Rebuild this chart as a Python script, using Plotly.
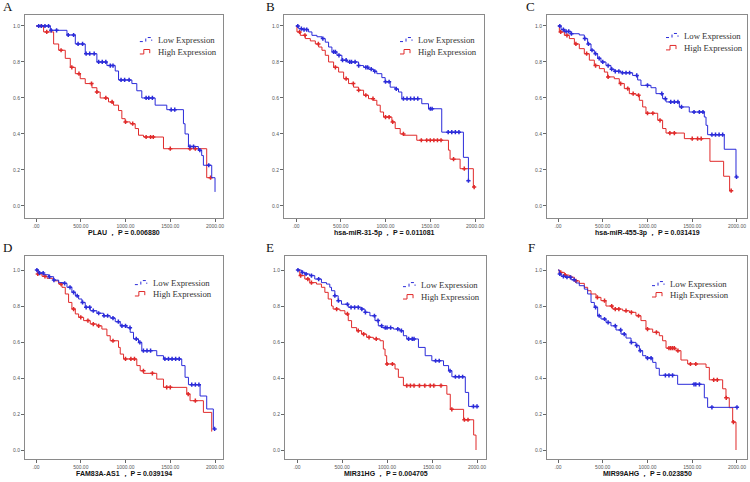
import plotly.graph_objects as go

# ---------------- data ----------------
panel_letters = ["A", "B", "C", "D", "E", "F"]
panel_titles = ["PLAU \uff0c P = 0.006880", "hsa-miR-31-5p \uff0c P = 0.011081",
                "hsa-miR-455-3p \uff0c P = 0.031419", "FAM83A-AS1 \uff0c P = 0.039194",
                "MIR31HG \uff0c P = 0.004705", "MIR99AHG \uff0c P = 0.023850"]
x_tickvals = [0, 500, 1000, 1500, 2000]
x_ticktext = [".00", "500.00", "1000.00", "1500.00", "2000.00"]
y_tickvals = [0, 0.2, 0.4, 0.6, 0.8, 1.0]
y_ticktext = ["0.0", "0.2", "0.4", "0.6", "0.8", "1.0"]
series_names = ["Low Expression", "High Expression"]

# A
A_low_t = [0, 160, 346, 439, 550, 680, 792, 885, 922, 1071, 1126, 1182, 1331, 1461, 1647, 1665, 1703, 1814, 1851, 1870, 1963, 2000]
A_low_s = [1.0, 0.976, 0.95, 0.90, 0.846, 0.80, 0.78, 0.75, 0.70, 0.68, 0.64, 0.60, 0.56, 0.535, 0.457, 0.40, 0.33, 0.31, 0.28, 0.226, 0.157, 0.078]
A_low_end = 2000
A_low_c = [30, 60, 100, 140, 170, 230, 360, 420, 470, 520, 560, 600, 650, 700, 740, 780, 830, 860, 950, 990, 1040, 1230, 1260, 1300, 1510, 1550, 1720, 1760, 1830, 1930]
A_high_t = [0, 85, 197, 253, 327, 383, 439, 494, 550, 625, 680, 717, 810, 866, 922, 959, 996, 1052, 1108, 1145, 1201, 1424, 1907]
A_high_s = [1.0, 0.967, 0.90, 0.865, 0.82, 0.77, 0.735, 0.707, 0.68, 0.657, 0.633, 0.60, 0.578, 0.56, 0.53, 0.485, 0.467, 0.457, 0.43, 0.393, 0.383, 0.318, 0.157]
A_high_end = 1963
A_high_c = [60, 120, 280, 400, 480, 620, 680, 780, 850, 1000, 1080, 1230, 1280, 1310, 1500, 1720, 1780, 1950]

# B
B_low_t = [0, 30, 67, 141, 178, 234, 290, 327, 364, 401, 457, 513, 569, 699, 755, 810, 866, 903, 959, 996, 1052, 1108, 1145, 1182, 1405, 1480, 1628, 1870, 1926]
B_low_s = [1.0, 0.985, 0.98, 0.967, 0.948, 0.94, 0.93, 0.91, 0.883, 0.856, 0.837, 0.81, 0.80, 0.78, 0.77, 0.76, 0.748, 0.735, 0.713, 0.69, 0.66, 0.65, 0.633, 0.596, 0.568, 0.54, 0.41, 0.27, 0.14]
B_low_end = 1926
B_low_c = [20, 60, 90, 120, 300, 420, 440, 480, 520, 560, 600, 620, 660, 700, 780, 800, 840, 880, 1000, 1040, 1120, 1200, 1240, 1280, 1320, 1360, 1500, 1520, 1700, 1740, 1780, 1820, 1926]
B_high_t = [0, 11, 48, 104, 160, 216, 253, 290, 327, 364, 420, 476, 532, 587, 643, 699, 755, 810, 866, 903, 941, 978, 1071, 1108, 1164, 1201, 1349, 1703, 1721, 1833, 1981]
B_high_s = [1.0, 0.967, 0.948, 0.93, 0.917, 0.90, 0.883, 0.865, 0.837, 0.80, 0.77, 0.744, 0.707, 0.68, 0.66, 0.643, 0.615, 0.596, 0.587, 0.56, 0.522, 0.494, 0.467, 0.43, 0.40, 0.393, 0.365, 0.31, 0.26, 0.207, 0.105]
B_high_end = 1990
B_high_c = [40, 100, 250, 440, 560, 640, 700, 780, 860, 1000, 1040, 1080, 1200, 1400, 1460, 1500, 1540, 1580, 1620, 1760, 1880, 1990]

# C
C_low_t = [0, 34, 71, 145, 238, 294, 331, 369, 406, 443, 480, 536, 592, 629, 704, 834, 890, 927, 1039, 1095, 1169, 1207, 1356, 1467, 1635, 1654, 1672, 1858, 1989]
C_low_s = [1.0, 0.98, 0.97, 0.957, 0.95, 0.93, 0.90, 0.865, 0.846, 0.82, 0.80, 0.78, 0.76, 0.748, 0.74, 0.725, 0.70, 0.67, 0.657, 0.624, 0.596, 0.578, 0.55, 0.522, 0.494, 0.448, 0.396, 0.315, 0.161]
C_low_end = 1995
C_low_c = [20, 60, 90, 120, 150, 300, 340, 380, 420, 460, 500, 560, 600, 640, 680, 720, 760, 800, 880, 1000, 1160, 1200, 1260, 1300, 1340, 1380, 1520, 1580, 1620, 1720, 1760, 1800, 1840, 1995]
C_high_t = [0, 15, 71, 127, 183, 238, 294, 350, 406, 462, 518, 555, 629, 685, 741, 797, 871, 909, 946, 983, 1114, 1169, 1207, 1412, 1698, 1851, 1918]
C_high_s = [1.0, 0.967, 0.948, 0.93, 0.90, 0.874, 0.846, 0.81, 0.78, 0.763, 0.744, 0.717, 0.707, 0.68, 0.652, 0.624, 0.615, 0.587, 0.55, 0.515, 0.476, 0.43, 0.405, 0.374, 0.248, 0.165, 0.085]
C_high_end = 1935
C_high_c = [30, 100, 200, 320, 420, 560, 700, 780, 840, 900, 1000, 1060, 1140, 1250, 1300, 1500, 1560, 1600, 1935]

# D
D_low_t = [0, 30, 86, 141, 197, 253, 309, 346, 401, 439, 476, 513, 550, 606, 680, 755, 829, 885, 941, 1015, 1052, 1089, 1145, 1182, 1349, 1424, 1628, 1665, 1703, 1833, 1907, 1981]
D_low_s = [1.0, 0.983, 0.974, 0.963, 0.944, 0.93, 0.926, 0.904, 0.876, 0.857, 0.839, 0.82, 0.793, 0.774, 0.76, 0.746, 0.733, 0.713, 0.69, 0.68, 0.654, 0.617, 0.598, 0.552, 0.524, 0.506, 0.469, 0.404, 0.363, 0.30, 0.228, 0.117]
D_low_end = 1995
D_low_c = [10, 40, 80, 150, 200, 320, 380, 420, 460, 520, 560, 600, 640, 700, 760, 800, 860, 920, 960, 1000, 1050, 1120, 1160, 1200, 1240, 1280, 1440, 1480, 1520, 1560, 1600, 1740, 1780, 1820, 1995]
D_high_t = [0, 19, 67, 123, 197, 253, 290, 327, 364, 401, 439, 476, 532, 606, 680, 736, 792, 829, 922, 941, 978, 1126, 1164, 1201, 1349, 1424, 1684, 1721, 1870, 1963]
D_high_s = [1.0, 0.978, 0.965, 0.954, 0.94, 0.922, 0.904, 0.867, 0.82, 0.783, 0.756, 0.737, 0.719, 0.70, 0.69, 0.672, 0.635, 0.607, 0.57, 0.533, 0.506, 0.469, 0.44, 0.426, 0.394, 0.348, 0.311, 0.274, 0.209, 0.103]
D_high_end = 1965
D_high_c = [20, 100, 280, 420, 500, 580, 640, 700, 860, 1000, 1060, 1100, 1200, 1300, 1460, 1500, 1700, 1780]

# E
E_low_t = [0, 48, 86, 141, 197, 271, 327, 364, 383, 420, 457, 494, 569, 717, 755, 810, 866, 903, 941, 1071, 1145, 1182, 1219, 1349, 1424, 1498, 1628, 1684, 1721, 1870, 1907]
E_low_s = [1.0, 0.987, 0.978, 0.969, 0.95, 0.93, 0.922, 0.904, 0.885, 0.857, 0.83, 0.81, 0.793, 0.783, 0.765, 0.746, 0.719, 0.69, 0.68, 0.672, 0.663, 0.635, 0.617, 0.57, 0.524, 0.496, 0.469, 0.44, 0.407, 0.32, 0.242]
E_low_end = 2000
E_low_c = [10, 60, 100, 160, 240, 420, 460, 560, 600, 640, 680, 720, 760, 860, 900, 940, 980, 1000, 1040, 1120, 1160, 1240, 1280, 1300, 1540, 1580, 1700, 1760, 1800, 1840, 1960, 2000]
E_high_t = [0, 30, 86, 141, 216, 271, 309, 346, 383, 401, 476, 532, 569, 606, 662, 717, 773, 848, 922, 959, 978, 996, 1089, 1126, 1182, 1665, 1703, 1851, 1963, 1989]
E_high_s = [1.0, 0.969, 0.95, 0.93, 0.922, 0.904, 0.876, 0.839, 0.80, 0.783, 0.774, 0.756, 0.719, 0.68, 0.663, 0.644, 0.626, 0.617, 0.607, 0.561, 0.524, 0.478, 0.45, 0.404, 0.358, 0.31, 0.226, 0.168, 0.083, 0.0]
E_high_end = 1989
E_high_c = [40, 120, 160, 440, 560, 680, 740, 800, 880, 1000, 1060, 1220, 1260, 1300, 1360, 1420, 1480, 1520, 1600, 1720, 1860, 1900]

# F
F_low_t = [0, 15, 34, 89, 145, 201, 238, 294, 331, 369, 406, 443, 480, 536, 592, 648, 704, 760, 816, 871, 909, 946, 983, 1058, 1095, 1132, 1337, 1635, 1672]
F_low_s = [1.0, 0.978, 0.965, 0.96, 0.946, 0.928, 0.913, 0.894, 0.867, 0.82, 0.793, 0.746, 0.728, 0.709, 0.69, 0.667, 0.644, 0.622, 0.598, 0.58, 0.552, 0.524, 0.511, 0.487, 0.454, 0.415, 0.365, 0.29, 0.237]
F_low_end = 2000
F_low_c = [20, 60, 100, 140, 180, 420, 460, 520, 560, 640, 700, 740, 820, 880, 920, 1000, 1040, 1200, 1240, 1280, 1520, 1540, 1580, 1720, 2000]
F_high_t = [0, 15, 71, 127, 183, 238, 294, 331, 369, 425, 480, 536, 611, 723, 797, 871, 927, 983, 1058, 1132, 1169, 1207, 1318, 1374, 1449, 1654, 1691, 1840, 1877, 1914, 1952, 1989]
F_high_s = [1.0, 0.987, 0.972, 0.96, 0.94, 0.926, 0.904, 0.885, 0.867, 0.848, 0.83, 0.80, 0.783, 0.774, 0.765, 0.746, 0.719, 0.672, 0.654, 0.635, 0.607, 0.566, 0.552, 0.50, 0.478, 0.459, 0.39, 0.34, 0.29, 0.235, 0.155, 0.0]
F_high_end = 1989
F_high_c = [30, 80, 140, 200, 440, 520, 600, 640, 680, 760, 820, 900, 1000, 1100, 1240, 1260, 1280, 1300, 1340, 1480, 1540, 1740, 1780, 1880, 1960]

panels = [
    (A_low_t, A_low_s, A_low_end, A_low_c, A_high_t, A_high_s, A_high_end, A_high_c),
    (B_low_t, B_low_s, B_low_end, B_low_c, B_high_t, B_high_s, B_high_end, B_high_c),
    (C_low_t, C_low_s, C_low_end, C_low_c, C_high_t, C_high_s, C_high_end, C_high_c),
    (D_low_t, D_low_s, D_low_end, D_low_c, D_high_t, D_high_s, D_high_end, D_high_c),
    (E_low_t, E_low_s, E_low_end, E_low_c, E_high_t, E_high_s, E_high_end, E_high_c),
    (F_low_t, F_low_s, F_low_end, F_low_c, F_high_t, F_high_s, F_high_end, F_high_c),
]

# ---------------- layout / styling ----------------
W, H = 750, 482
BLUE = "#2b2bd9"
RED = "#e02a2a"
# frame boxes in pixels: (left, right, top, bottom)
frames = [(25, 223, 15, 218), (284, 484, 15, 218), (547, 747, 15, 218),
          (25, 223, 256, 459), (285, 486, 256, 459), (547, 747, 256, 459)]
xranges = [(-123, 2089), (-134, 2100), (-123, 2112), (-123, 2089), (-134, 2100), (-123, 2112)]
yranges = [(-0.067, 1.061), (-0.067, 1.061), (-0.067, 1.061), (-0.05, 1.078), (-0.05, 1.078), (-0.05, 1.078)]
letter_pos = [(2, 7), (265, 7), (525, 7), (2, 248), (265, 248), (527, 248)]
title_y = [233, 233, 233, 474, 474, 474]
legend_pos = [(0.58, 0.877, 0.818), (0.58, 0.877, 0.818), (0.595, 0.897, 0.838),
              (0.555, 0.867, 0.813), (0.587, 0.857, 0.798), (0.525, 0.862, 0.808)]


def step_at(ts, ss, c):
    v = ss[0]
    for t, s in zip(ts, ss):
        if t <= c:
            v = s
    return v


fig = go.Figure()
layout = dict(width=W, height=H, margin=dict(l=0, r=0, t=0, b=0, autoexpand=False),
              paper_bgcolor="white", plot_bgcolor="white", showlegend=False)
annotations = []
shapes = []

for i, (lt, ls, lend, lc, ht, hs, hend, hc) in enumerate(panels):
    n = i + 1
    xa = "x" if n == 1 else f"x{n}"
    ya = "y" if n == 1 else f"y{n}"
    l, r, t, b = frames[i]
    axis_common = dict(showgrid=False, zeroline=False, showline=True, mirror=True,
                       linecolor="#8a8a8a", linewidth=1, ticks="outside", ticklen=3,
                       tickcolor="#666", tickwidth=1, automargin=False,
                       tickfont=dict(family="Liberation Sans, Arial", size=5, color="#555"))
    layout["xaxis" if n == 1 else f"xaxis{n}"] = dict(
        axis_common, domain=[l / W, r / W], range=list(xranges[i]), anchor=ya,
        tickvals=x_tickvals, ticktext=x_ticktext)
    layout["yaxis" if n == 1 else f"yaxis{n}"] = dict(
        axis_common, domain=[1 - b / H, 1 - t / H], range=list(yranges[i]), anchor=xa,
        tickvals=y_tickvals, ticktext=y_ticktext)

    for (ts, ss, end, cs, col) in [(ht, hs, hend, hc, RED), (lt, ls, lend, lc, BLUE)]:
        fig.add_trace(go.Scatter(x=list(ts) + [end], y=list(ss) + [ss[-1]], mode="lines",
                                 line=dict(color=col, width=1, shape="hv"),
                                 xaxis=xa, yaxis=ya, hoverinfo="skip"))
        fig.add_trace(go.Scatter(x=cs, y=[step_at(ts, ss, c) for c in cs], mode="markers",
                                 marker=dict(symbol="cross-thin", size=3,
                                             line=dict(color=col, width=1.5)),
                                 xaxis=xa, yaxis=ya, hoverinfo="skip"))

    # axis title
    annotations.append(dict(text="<b>" + panel_titles[i] + "</b>", x=(l + r) / 2 / W, y=1 - title_y[i] / H,
                            xref="paper", yref="paper", xanchor="center", yanchor="middle",
                            showarrow=False,
                            font=dict(family="Liberation Sans, Arial", size=7, color="#111")))
    # panel letter
    lx, ly = letter_pos[i]
    annotations.append(dict(text=panel_letters[i], x=lx / W, y=1 - ly / H, xref="paper", yref="paper",
                            xanchor="left", yanchor="middle", showarrow=False, borderpad=0,
                            font=dict(family="Liberation Serif, Times New Roman", size=13, color="#111")))
    # legend
    gx, gy1, gy2 = legend_pos[i]
    xd = f"{xa} domain"
    yd = f"{ya} domain"
    for name, gy, col, dash in [(series_names[0], gy1, BLUE, "dot"), (series_names[1], gy2, RED, "solid")]:
        if dash == "dot":
            path = f"M {gx},{gy-0.008} L {gx+0.03},{gy-0.008} L {gx+0.03},{gy+0.012} L {gx+0.06},{gy+0.012} L {gx+0.06},{gy-0.004}"
        else:
            path = f"M {gx},{gy-0.01} L {gx+0.02},{gy-0.01} L {gx+0.02},{gy+0.012} L {gx+0.05},{gy+0.012} L {gx+0.05},{gy-0.006}"
        shapes.append(dict(type="path", path=path, xref=xd, yref=yd,
                           line=dict(color=col, width=1, dash=dash)))
        annotations.append(dict(text=name, x=gx + 0.08, y=gy, xref=xd, yref=yd,
                                xanchor="left", yanchor="middle", showarrow=False,
                                font=dict(family="Liberation Serif, Times New Roman", size=8.7, color="#333")))

layout["annotations"] = annotations
layout["shapes"] = shapes
fig.update_layout(**layout)
fig.write_html("out.html", config={"displayModeBar": False, "staticPlot": True},
               post_script="document.body.style.margin='0px';document.body.style.padding='0px';")
